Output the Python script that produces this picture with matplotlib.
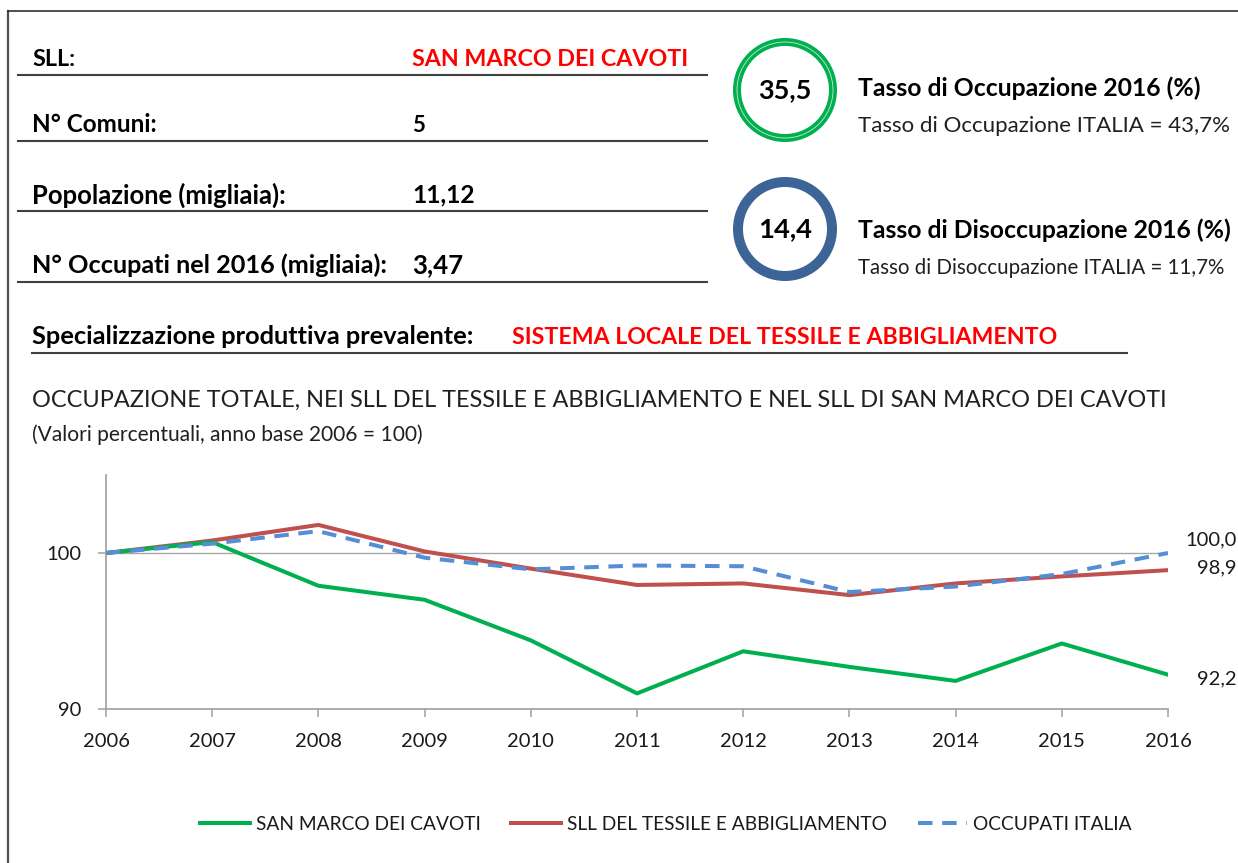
import matplotlib
matplotlib.use("Agg")
import matplotlib.pyplot as plt
from matplotlib.patches import Circle
from matplotlib.lines import Line2D

# ---------------- data ----------------
years = [2006, 2007, 2008, 2009, 2010, 2011, 2012, 2013, 2014, 2015, 2016]
san_marco = [100.0, 100.7, 97.9, 97.0, 94.4, 91.0, 93.7, 92.7, 91.8, 94.2, 92.2]
sll_tessile = [100.0, 100.8, 101.8, 100.1, 99.0, 97.95, 98.05, 97.3, 98.05, 98.5, 98.9]
occupati_italia = [100.0, 100.6, 101.4, 99.7, 98.95, 99.2, 99.15, 97.5, 97.85, 98.65, 100.0]
series_names = ["SAN MARCO DEI CAVOTI", "SLL DEL TESSILE E ABBIGLIAMENTO", "OCCUPATI ITALIA"]
end_labels = ["92,2", "98,9", "100,0"]
y_ticks = [90, 100]

info_labels = ["SLL:", "N° Comuni:", "Popolazione (migliaia):", "N° Occupati nel 2016 (migliaia):"]
info_values = ["SAN MARCO DEI CAVOTI", "5", "11,12", "3,47"]
tasso_occ = "35,5"
tasso_dis = "14,4"
tasso_occ_it = "Tasso di Occupazione ITALIA = 43,7%"
tasso_dis_it = "Tasso di Disoccupazione ITALIA = 11,7%"
specializzazione = "SISTEMA LOCALE DEL TESSILE E ABBIGLIAMENTO"

# ---------------- figure ----------------
W, H = 1238, 863
plt.rcParams['font.family'] = ['Lato', 'DejaVu Sans']
fig = plt.figure(figsize=(W / 100, H / 100), dpi=100)
fig.patch.set_facecolor("white")
renderer = fig.canvas.get_renderer()


def fx(x):
    return x / W


def fy(y):
    return 1 - y / H


def ftext(x, y, s, width=None, size=14, **kw):
    kw.setdefault("va", "center")
    t = fig.text(fx(x), fy(y), s, fontsize=size, **kw)
    if width:
        bb = t.get_window_extent(renderer=renderer)
        t.set_fontsize(size * width / bb.width)
    return t


def hline(x0, x1, y, color="#404040", lw=1.5):
    fig.add_artist(Line2D([fx(x0), fx(x1)], [fy(y), fy(y)], color=color, lw=lw,
                          transform=fig.transFigure))


# outer frame (top and left)
fig.add_artist(Line2D([fx(8), fx(8)], [fy(11), fy(H + 5)], color="#505050", lw=1.6,
                      transform=fig.transFigure))
fig.add_artist(Line2D([fx(8), fx(W + 5)], [fy(11), fy(11)], color="#303030", lw=1.2,
                      transform=fig.transFigure))

# info table
label_w = [43, 125, 255, 355]
value_w = [277, None, 63, 51]
rows_y = [60, 125, 195, 265]
lines_y = [75, 141, 211, 282]
for lab, val, lw_, vw, ry, ly in zip(info_labels, info_values, label_w, value_w, rows_y, lines_y):
    ftext(32, ry, lab, width=lw_, size=15, fontweight="bold", color="black")
    col = "#FF0000" if val == info_values[0] else "black"
    ftext(412, ry, val, width=vw, size=16, fontweight="bold", color=col)
    hline(18, 707, ly)

# circles
for cy, val, col, rw in [(90, tasso_occ, "#00B050", 8), (229, tasso_dis, "#3D6497", 10)]:
    circ = Circle((785, H - cy), 52 - rw / 2, transform=None, fill=False,
                  edgecolor=col, lw=rw * 0.72)
    fig.add_artist(circ)
    if col == "#00B050":
        inner = Circle((785, H - cy), 52 - rw / 2, transform=None, fill=False,
                       edgecolor="#C8E8C8", lw=0.6)
        fig.add_artist(inner)
    ftext(785, cy, val, width=54, size=15, fontweight="bold", ha="center", color="black")

ftext(858, 88, "Tasso di Occupazione 2016 (%)", width=343, size=15, fontweight="bold")
ftext(858, 126, tasso_occ_it, width=370, size=11, color="#202020")
ftext(858, 230, "Tasso di Disoccupazione 2016 (%)", width=374, size=15, fontweight="bold")
ftext(858, 268, tasso_dis_it, width=367, size=11, color="#202020")

# specializzazione
ftext(32, 337, "Specializzazione produttiva prevalente:", width=443, size=15, fontweight="bold")
ftext(512, 337, specializzazione, width=543, size=15, fontweight="bold", color="#FF0000")
hline(32, 1127, 353)

# chart title
ftext(32, 400, "OCCUPAZIONE TOTALE, NEI SLL DEL TESSILE E ABBIGLIAMENTO E NEL SLL DI SAN MARCO DEI CAVOTI",
      width=1136, size=15, color="#202020")
ftext(32, 435, "(Valori percentuali, anno base 2006 = 100)", width=390, size=11, color="#202020")

# ---------------- chart ----------------
ax = fig.add_axes([fx(106), fy(709), fx(1168) - fx(106), fy(475) - fy(709)])
colors = ["#00B050", "#C0504D", "#558ED5"]
l1, = ax.plot(years, san_marco, color=colors[0], lw=2.9, zorder=4)
l2, = ax.plot(years, sll_tessile, color=colors[1], lw=2.9, zorder=3)
l3, = ax.plot(years, occupati_italia, color=colors[2], lw=2.9, linestyle=(0, (3.6, 2.4)), zorder=5)
ax.set_xlim(years[0], years[-1])
ax.set_ylim(90, 105)
ax.set_yticks(y_ticks)
ax.set_yticklabels([str(v) for v in y_ticks])
ax.set_xticks(years)
ax.set_xticklabels([str(y) for y in years])
ax.axhline(100, color="#A6A6A6", lw=1.0, zorder=1)
for s in ["top", "right"]:
    ax.spines[s].set_visible(False)
for s in ["left", "bottom"]:
    ax.spines[s].set_color("#A6A6A6")
    ax.spines[s].set_linewidth(1.3)
ax.tick_params(axis="both", colors="#A6A6A6", length=6, width=1.2, labelsize=14.5,
               labelcolor="#1a1a1a")
ax.tick_params(axis="x", pad=11)
ax.tick_params(axis="y", pad=12)
ax.set_facecolor("none")

# end labels
for series, lab, dy in [(san_marco, end_labels[0], -4), (sll_tessile, end_labels[1], 2),
                        (occupati_italia, end_labels[2], 13)]:
    ax.annotate(lab, xy=(years[-1], series[-1]), xytext=(69 * 0.72, dy * 0.72),
                textcoords="offset points", ha="right", va="center", fontsize=14.5,
                color="#1a1a1a", annotation_clip=False)

leg = fig.legend([l1, l2, l3], series_names, loc="center", ncol=3,
                 bbox_to_anchor=(fx(666), fy(824)), frameon=False, fontsize=13.8,
                 handlelength=2.6, handletextpad=0.3, columnspacing=1.6)
for t in leg.get_texts():
    t.set_color("#1a1a1a")

fig.savefig("out.png", dpi=100, facecolor="white")
